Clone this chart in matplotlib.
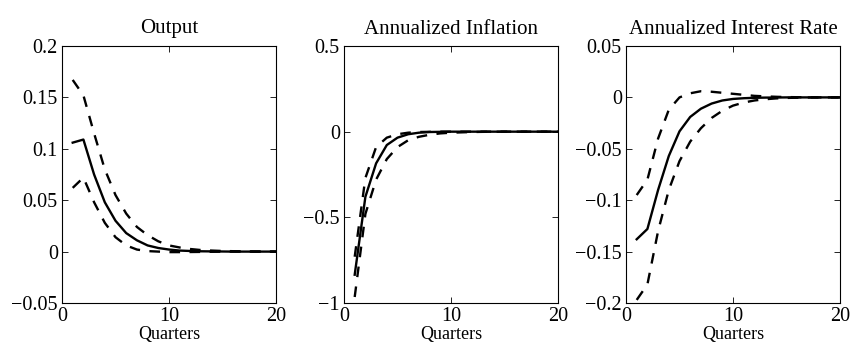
import numpy as np
import matplotlib
matplotlib.use('Agg')
from matplotlib import pyplot as plt

plt.rcParams['font.family'] = ['Liberation Serif', 'DejaVu Serif']

quarters = np.arange(1, 21)

# Output: median and bands
output_mid = [0.106, 0.109, 0.075, 0.048, 0.030, 0.018, 0.011, 0.006, 0.0035, 0.002,
              0.001, 0.0006, 0.0003, 0.0002, 0.0001, 0.0, 0.0, 0.0, 0.0, 0.0]
output_hi = [0.167, 0.152, 0.115, 0.080, 0.055, 0.037, 0.024, 0.016, 0.010, 0.006,
             0.004, 0.0025, 0.0015, 0.001, 0.0006, 0.0004, 0.0002, 0.0001, 0.0, 0.0]
output_lo = [0.062, 0.072, 0.048, 0.028, 0.014, 0.006, 0.002, 0.0005, 0.0, -0.0005,
             -0.0005, -0.0004, -0.0003, -0.0002, -0.0001, 0.0, 0.0, 0.0, 0.0, 0.0]

# Annualized inflation
infl_mid = [-0.835, -0.38, -0.185, -0.078, -0.035, -0.015, -0.006, -0.002, -0.001, 0.0,
            0.0, 0.0, 0.0, 0.0, 0.0, 0.0, 0.0, 0.0, 0.0, 0.0]
infl_hi = [-0.73, -0.27, -0.09, -0.035, -0.015, -0.006, -0.002, -0.001, 0.0, 0.0,
           0.0, 0.0, 0.0, 0.0, 0.0, 0.0, 0.0, 0.0, 0.0, 0.0]
infl_lo = [-0.965, -0.48, -0.28, -0.16, -0.09, -0.05, -0.03, -0.018, -0.010, -0.006,
           -0.004, -0.002, -0.001, -0.0005, 0.0, 0.0, 0.0, 0.0, 0.0, 0.0]

# Annualized interest rate
rate_mid = [-0.138, -0.128, -0.090, -0.057, -0.033, -0.019, -0.011, -0.006, -0.003, -0.0015,
            -0.0008, -0.0004, -0.0002, -0.0001, 0.0, 0.0, 0.0, 0.0, 0.0, 0.0]
rate_hi = [-0.095, -0.080, -0.040, -0.012, 0.0, 0.004, 0.006, 0.0055, 0.0045, 0.0035,
           0.0025, 0.0015, 0.001, 0.0006, 0.0003, 0.0002, 0.0001, 0.0, 0.0, 0.0]
rate_lo = [-0.197, -0.182, -0.130, -0.090, -0.062, -0.043, -0.030, -0.020, -0.013, -0.008,
           -0.005, -0.003, -0.0018, -0.001, -0.0005, -0.0003, -0.0001, 0.0, 0.0, 0.0]

panels = [
    ('Output', output_mid, output_hi, output_lo, (-0.05, 0.2),
     [-0.05, 0, 0.05, 0.1, 0.15, 0.2], ['\u22120.05', '0', '0.05', '0.1', '0.15', '0.2']),
    ('Annualized Inflation', infl_mid, infl_hi, infl_lo, (-1, 0.5),
     [-1, -0.5, 0, 0.5], ['\u22121', '\u22120.5', '0', '0.5']),
    ('Annualized Interest Rate', rate_mid, rate_hi, rate_lo, (-0.2, 0.05),
     [-0.2, -0.15, -0.1, -0.05, 0, 0.05],
     ['\u22120.2', '\u22120.15', '\u22120.1', '\u22120.05', '0', '0.05']),
]

fig = plt.figure(figsize=(8.54, 3.54), dpi=100)
lefts = [62, 344, 626]
for left, (title, mid, hi, lo, ylim, yticks, ylabels) in zip(lefts, panels):
    ax = fig.add_axes([left / 854, 1 - 303 / 354, 214 / 854, 257 / 354])
    ax.plot(quarters, mid, color='black', lw=1.7)
    ax.plot(quarters, hi, color='black', lw=1.7, dashes=(4.5, 4))
    ax.plot(quarters, lo, color='black', lw=1.7, dashes=(4.5, 4))
    ax.set_xlim(0, 20)
    ax.set_ylim(*ylim)
    ax.set_xticks([0, 10, 20])
    ax.set_yticks(yticks)
    ax.set_yticklabels(ylabels)
    ax.tick_params(direction='in', top=True, right=True, labelsize=14.5,
                   length=4, width=0.6)
    ax.tick_params(axis='x', pad=3)
    ax.tick_params(axis='y', pad=3)
    for s in ax.spines.values():
        s.set_linewidth(0.8)
    ax.set_title(title, fontsize=15, pad=9)
    ax.set_xlabel('Quarters', fontsize=13, labelpad=0)

fig.savefig('out.png', dpi=100)
